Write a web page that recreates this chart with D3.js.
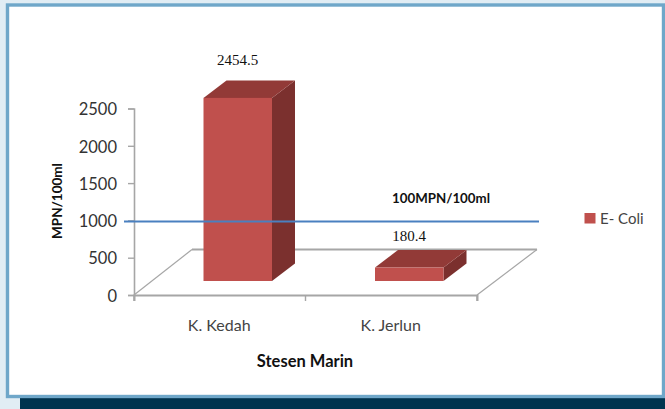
<!DOCTYPE html>
<html>
<head>
<meta charset="utf-8">
<script src="https://cdn.jsdelivr.net/npm/d3@7"></script>
<style>html,body{margin:0;padding:0;background:#e1edf4;overflow:hidden}svg{display:block}</style>
</head>
<body>
<svg id="c" width="665" height="409"></svg>
<script>
const categories = ["K. Kedah", "K. Jerlun"];
const seriesName = "E- Coli";
const values = [2454.5, 180.4];
const valueLabels = ["2454.5", "180.4"];
const yTicks = [0, 500, 1000, 1500, 2000, 2500];
const referenceValue = 985;
const referenceLabel = "100MPN/100ml";
const yTitle = "MPN/100ml";
const xTitle = "Stesen Marin";

const svg = d3.select("#c");
const sans = "Lato, 'Open Sans', sans-serif";
const serif = "'Liberation Serif', serif";

// page frame
svg.append("rect").attr("x",0).attr("y",0).attr("width",665).attr("height",409).attr("fill","#e1edf4");
svg.append("rect").attr("x",20).attr("y",398).attr("width",645).attr("height",11).attr("fill","#00344f");
svg.append("rect").attr("x",7.5).attr("y",5).attr("width",656).attr("height",391.5)
  .attr("fill","#fff").attr("stroke","#6fa7c9").attr("stroke-width",3.4);

const y = d3.scaleLinear().domain([0,2500]).range([295,108.5]);
const x = d3.scaleBand().domain(categories).range([134,477]);
const floorDx = 58, floorDy = 45.5, floorBackRight = 60;
const barW = 68.5, barDx = 23, barDy = 17.5, barBaseUp = 14;
const gray = "#a6a6a6";

const g = svg.append("g");

// floor
const line = d3.line();
g.append("path").attr("fill","none").attr("stroke",gray).attr("stroke-width",1.2)
  .attr("d", line([[134,295],[134+floorDx,295-floorDy]]));
g.append("path").attr("fill","none").attr("stroke",gray).attr("stroke-width",1.2)
  .attr("d", line([[477,295],[477+floorBackRight,295-floorDy]]));
g.append("path").attr("fill","none").attr("stroke",gray).attr("stroke-width",2)
  .attr("d", line([[134+floorDx,295-floorDy],[477+floorBackRight,295-floorDy]]));

// axes
const yAxis = d3.axisLeft(y).tickValues(yTicks).tickSize(6).tickPadding(11).tickFormat(d3.format("d"));
const ya = g.append("g").attr("transform","translate(134,0)").call(yAxis);
ya.select(".domain").attr("stroke",gray).attr("stroke-width",1.6);
ya.selectAll(".tick line").attr("stroke",gray).attr("stroke-width",1.4);
ya.selectAll(".tick text").attr("fill","#333").attr("font-family",sans).attr("font-size",16.5).attr("y",1);

const xAxis = d3.axisBottom(x).tickSize(6).tickSizeOuter(6).tickValues([]);
const xa = g.append("g").attr("transform","translate(0,295)").call(xAxis);
xa.select(".domain").attr("stroke",gray).attr("stroke-width",2);
const bandEdges = [134, 134 + x.bandwidth(), 134 + 2*x.bandwidth()];
xa.selectAll("line.edge").data(bandEdges).join("line").attr("class","edge")
  .attr("x1",d=>d).attr("x2",d=>d).attr("y1",0).attr("y2",6)
  .attr("stroke",gray).attr("stroke-width",1.4);

g.selectAll("text.cat").data(categories).join("text").attr("class","cat")
  .attr("x",d=>x(d)+x.bandwidth()/2-0.5).attr("y",331)
  .attr("text-anchor","middle").attr("fill","#444")
  .attr("font-family",sans).attr("font-size",16).text(d=>d);

// 3D bars
const barG = g.selectAll("g.bar").data(values).join("g").attr("class","bar");
const h = v => y(0) - y(v);
const bx = (i) => x(categories[i]) + (x.bandwidth() - barW)/2 + 18;
const base = y(0) - barBaseUp;
barG.append("path").attr("fill","#7b302e").attr("d",(v,i)=>{
  const l=bx(i)+barW, t=base-h(v);
  return line([[l,t],[l+barDx,t-barDy],[l+barDx,base-barDy],[l,base]])+"Z";
});
barG.append("path").attr("fill","#923a37").attr("d",(v,i)=>{
  const l=bx(i), t=base-h(v);
  return line([[l,t],[l+barDx,t-barDy],[l+barW+barDx,t-barDy],[l+barW,t]])+"Z";
});
barG.append("rect").attr("fill","#c0504d")
  .attr("x",(v,i)=>bx(i)).attr("y",v=>base-h(v)).attr("width",barW).attr("height",v=>h(v));

// value labels
const labelY = [65, 241];
g.selectAll("text.val").data(valueLabels).join("text").attr("class","val")
  .attr("x",(d,i)=>i===0?237.5:409).attr("y",(d,i)=>labelY[i])
  .attr("text-anchor","middle").attr("fill","#111")
  .attr("font-family",serif).attr("font-size",15).text(d=>d);

// reference line
g.append("line").attr("x1",124).attr("x2",539).attr("y1",y(referenceValue)).attr("y2",y(referenceValue))
  .attr("stroke","#4a80c0").attr("stroke-width",2);
g.append("text").attr("x",441).attr("y",203).attr("text-anchor","middle")
  .attr("font-family",sans).attr("font-weight",700).attr("font-size",13.3).attr("fill","#111").text(referenceLabel);

// titles
g.append("text").attr("transform","translate(62,201) rotate(-90)").attr("text-anchor","middle")
  .attr("font-family",sans).attr("font-weight",700).attr("font-size",13.5).attr("fill","#111").text(yTitle);
g.append("text").attr("x",305).attr("y",367).attr("text-anchor","middle")
  .attr("font-family",sans).attr("font-weight",700).attr("font-size",16.5).attr("fill","#111").text(xTitle);

// legend
g.append("rect").attr("x",584.5).attr("y",213).attr("width",11).attr("height",10.5).attr("fill","#c0504d");
g.append("text").attr("x",600).attr("y",224).attr("font-family",sans).attr("font-size",15).attr("fill","#444").text(seriesName);
</script>
</body>
</html>
